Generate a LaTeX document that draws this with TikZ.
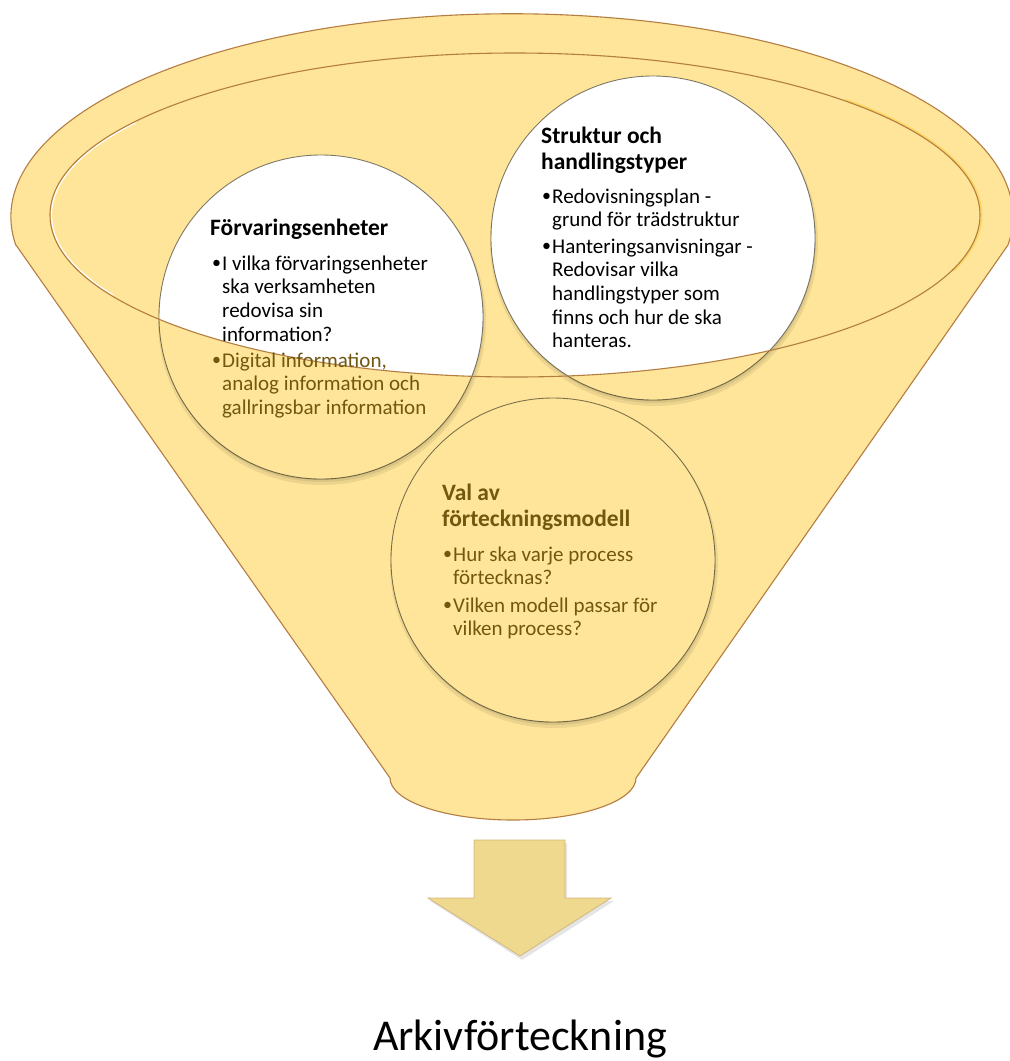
\documentclass[tikz,border=0pt]{standalone}
\usepackage{fontspec}
\setmainfont{Carlito}
\usetikzlibrary{calc}
\definecolor{funfill}{RGB}{254,229,153}
\definecolor{funline}{RGB}{180,125,65}
\definecolor{glowy}{RGB}{255,210,80}
\definecolor{txtbrown}{RGB}{112,88,16}
\definecolor{arrfill}{RGB}{239,217,143}
\definecolor{arrline}{RGB}{210,182,125}
\newcommand{\bul}{\makebox[10pt][l]{\raisebox{1.1pt}{\fontsize{18}{18}\selectfont•}}}
\begin{document}
\begin{tikzpicture}[x=1pt,y=-1pt,
  funnelshape/.style={fill=funfill,draw=funline,line width=1.1pt},
  ringline/.style={draw=funline,line width=1.1pt},
  circfill/.style={fill=funfill},
  circline/.style={draw=black,draw opacity=0.5,line width=0.9pt},
  circshadow/.style={fill=black,opacity=0.07},
  hd/.style={anchor=base west,inner sep=0pt,font=\fontsize{23.5}{26.5}\selectfont\bfseries},
  bl/.style={anchor=base west,inner sep=0pt,font=\fontsize{21}{23.7}\selectfont},
  arrowshape/.style={fill=arrfill,draw=arrline,line width=0.8pt},
  outtext/.style={anchor=base,inner sep=0pt,font=\fontsize{44}{50}\selectfont}]
\useasboundingbox (0,0) rectangle (1010,1061);

% funnel body
\draw[funnelshape] (16,245) -- (390,778)
  arc[start angle=180,end angle=0,x radius=123,y radius=42]
  -- (1008,245)
  arc[start angle=8,end angle=-188,x radius=501,y radius=203] -- cycle;

% circle shadows
\foreach \cx/\cy in {321/317,653/238,553/560}{
  \fill[circshadow] (\cx+1,\cy+4) circle[radius=164];
  \fill[circshadow] (\cx+1,\cy+3) circle[radius=162];
  \fill[circshadow] (\cx,\cy+2) circle[radius=161];
}
% circle fills
\foreach \cx/\cy in {321/317,653/238,553/560}{
  \fill[circfill] (\cx,\cy) circle[radius=162];
}
% white parts inside inner ring
\begin{scope}
  \clip (515,215) ellipse[x radius=465,y radius=162];
  \fill[white] (321,317) circle[radius=162];
  \fill[white] (653,238) circle[radius=162];
\end{scope}
% circle outlines
\foreach \cx/\cy in {321/317,653/238,553/560}{
  \draw[circline] (\cx,\cy) circle[radius=162];
}
% inner ring with light edge effects
\draw[white,line width=1.2pt] (515,215) ++(150:463.5 and 160.5) arc[start angle=150,end angle=215,x radius=463.5,y radius=160.5];
\draw[glowy,line width=1.6pt,opacity=0.8] (515,215) ++(-45:466.5 and 163.5) arc[start angle=-45,end angle=20,x radius=466.5,y radius=163.5];
\draw[ringline] (515,215) ellipse[x radius=465,y radius=162];

% texts circle 1
\node[hd] (t1h) at (210,235) {Förvaringsenheter};
\node[bl] (t1a) at (212,270) {\bul\begin{tabular}[t]{@{}l@{}}I vilka förvaringsenheter\\ska verksamheten\\redovisa sin\\information?\end{tabular}};
\node[bl,text=txtbrown] (t1b) at (212,367) {\bul\begin{tabular}[t]{@{}l@{}}Digital information,\\analog information och\\gallringsbar information\end{tabular}};

% texts circle 2
\node[hd] (t2h) at (541,143) {\begin{tabular}[t]{@{}l@{}}Struktur och\\handlingstyper\end{tabular}};
\node[bl] (t2a) at (542,203) {\bul\begin{tabular}[t]{@{}l@{}}Redovisningsplan -\\grund för trädstruktur\end{tabular}};
\node[bl] (t2b) at (542,253) {\bul\begin{tabular}[t]{@{}l@{}}Hanteringsanvisningar -\\Redovisar vilka\\handlingstyper som\\finns och hur de ska\\hanteras.\end{tabular}};

% texts circle 3
\node[hd,text=txtbrown] (t3h) at (442,500) {\begin{tabular}[t]{@{}l@{}}Val av\\förteckningsmodell\end{tabular}};
\node[bl,text=txtbrown] (t3a) at (443,561) {\bul\begin{tabular}[t]{@{}l@{}}Hur ska varje process\\förtecknas?\end{tabular}};
\node[bl,text=txtbrown] (t3b) at (443,612) {\bul\begin{tabular}[t]{@{}l@{}}Vilken modell passar för\\vilken process?\end{tabular}};

% arrow
\fill[black,opacity=0.10] (476,843) -- (567,843) -- (567,901) -- (614,901) -- (522,960) -- (430,901) -- (476,901) -- cycle;
\draw[arrowshape] (474,840) -- (565,840) -- (565,898) -- (611,898) -- (520,956) -- (428,898) -- (474,898) -- cycle;

\node[outtext] (out) at (520,1050) {Arkivförteckning};
\end{tikzpicture}
\end{document}
